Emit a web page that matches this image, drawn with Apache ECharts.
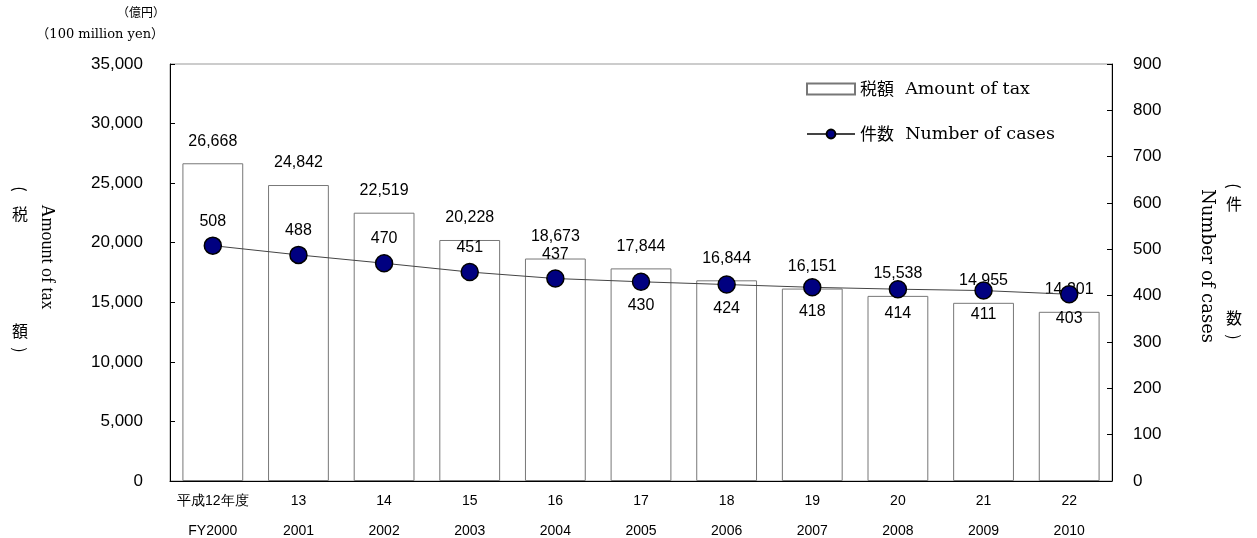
<!DOCTYPE html>
<html><head><meta charset="utf-8">
<script src="https://cdn.jsdelivr.net/npm/echarts@6/dist/echarts.min.js"></script>
<style>html,body{margin:0;padding:0;background:#fff}#c{width:1257px;height:538px}</style>
</head><body><div id="c"></div>
<script>
var categoriesJa = ['平成12年度','13','14','15','16','17','18','19','20','21','22'];
var categoriesEn = ['FY2000','2001','2002','2003','2004','2005','2006','2007','2008','2009','2010'];
var taxAmount = [26668,24842,22519,20228,18673,17844,16844,16151,15538,14955,14201];
var caseCount = [508,488,470,451,437,430,424,418,414,411,403];
var leftTicks = [0,35000,5000];
var rightTicks = [0,900,100];
var barName = '税額 Amount of tax';
var lineName = '件数 Number of cases';

var SANS = 'Liberation Sans, Arial, sans-serif';
var SERIF = 'Liberation Serif, Times New Roman, serif';
var WSERIF = 'DejaVu Serif, serif';
var CJK = 'Noto Sans CJK JP, sans-serif';

function fmt(v){ return v.toLocaleString('en-US'); }

var cats = categoriesJa.map(function(j,i){ return j + '\n' + categoriesEn[i]; });
var lineData = caseCount.map(function(v,i){
  return {value: v, label: {position: i < 5 ? 'top' : 'bottom'}};
});

function t(x, y, s, font, size, rot){
  return {type: 'text', x: x, y: y, rotation: rot || 0,
    style: {text: s, fontFamily: font, fontSize: size, fill: '#000', align: 'center', verticalAlign: 'middle'}};
}

var chart = echarts.init(document.getElementById('c'));
chart.setOption({
  animation: false,
  grid: {left: 170, right: 145, top: 64, bottom: 57, containLabel: false, outerBoundsMode: 'none',
         show: true, borderColor: '#999', borderWidth: 1, backgroundColor: 'transparent'},
  legend: {
    orient: 'vertical', left: 801, top: 75, itemWidth: 48, itemHeight: 11, itemGap: 27,
    data: [{name: barName, icon: 'rect'}, {name: lineName}],
    formatter: function(n){ var p = n.split(' '); return '{c|' + p[0] + '}{s|  ' + p.slice(1).join(' ') + '}'; },
    textStyle: {rich: {c: {fontFamily: CJK, fontSize: 17, color: '#000'}, s: {fontFamily: WSERIF, fontSize: 17.5, color: '#000'}}}
  },
  xAxis: {
    type: 'category', data: cats,
    axisLine: {lineStyle: {color: '#000', width: 1}},
    axisTick: {inside: true, length: 4, lineStyle: {color: '#666'}},
    axisLabel: {interval: 0, color: '#000', fontFamily: SANS, fontSize: 14, lineHeight: 30, margin: 5}
  },
  yAxis: [{
    type: 'value', min: leftTicks[0], max: leftTicks[1], interval: leftTicks[2],
    axisLine: {show: true, lineStyle: {color: '#000'}},
    axisTick: {show: true, inside: true, length: 5, lineStyle: {color: '#000'}},
    splitLine: {show: false},
    axisLabel: {color: '#000', fontFamily: SANS, fontSize: 17, margin: 27, formatter: fmt}
  }, {
    type: 'value', min: rightTicks[0], max: rightTicks[1], interval: rightTicks[2],
    axisLine: {show: true, lineStyle: {color: '#000'}},
    axisTick: {show: true, inside: true, length: 5, lineStyle: {color: '#000'}},
    splitLine: {show: false},
    axisLabel: {color: '#000', fontFamily: SANS, fontSize: 17, margin: 21}
  }],
  series: [{
    name: barName, type: 'bar', data: taxAmount, barWidth: '71%', yAxisIndex: 0,
    itemStyle: {color: '#fff', borderColor: '#777', borderWidth: 1},
    label: {show: true, position: 'top', distance: 14, color: '#000', fontFamily: SANS, fontSize: 16, formatter: function(p){ return fmt(p.value); }}
  }, {
    name: lineName, type: 'line', data: lineData, yAxisIndex: 1,
    symbol: 'circle', symbolSize: 17,
    lineStyle: {color: '#444', width: 1},
    itemStyle: {color: '#000080', borderColor: '#000', borderWidth: 1.5},
    label: {show: true, distance: 7, color: '#000', fontFamily: SANS, fontSize: 16},
    z: 5
  }],
  graphic: [
    {type: 'text', x: 165, y: 14, style: {text: '（億円）', fontFamily: WSERIF + ',' + CJK, fontSize: 12, fill: '#000', align: 'right', verticalAlign: 'middle'}},
    {type: 'text', x: 164, y: 35, style: {text: '（100 million yen）', fontFamily: WSERIF + ',' + CJK, fontSize: 13, fill: '#000', align: 'right', verticalAlign: 'middle'}},
    t(20, 189, '(', CJK, 16, -Math.PI/2),
    t(20, 214, '税', CJK, 16),
    t(20, 331, '額', CJK, 16),
    t(20, 350, ')', CJK, 16, -Math.PI/2),
    t(47, 257, 'Amount of tax', SERIF, 18, -Math.PI/2),
    t(1234, 186, '(', CJK, 16, -Math.PI/2),
    t(1234, 204, '件', CJK, 16),
    t(1234, 318, '数', CJK, 16),
    t(1234, 337, ')', CJK, 16, -Math.PI/2),
    t(1207, 266, 'Number of cases', WSERIF, 18, -Math.PI/2)
  ]
});
</script></body></html>
